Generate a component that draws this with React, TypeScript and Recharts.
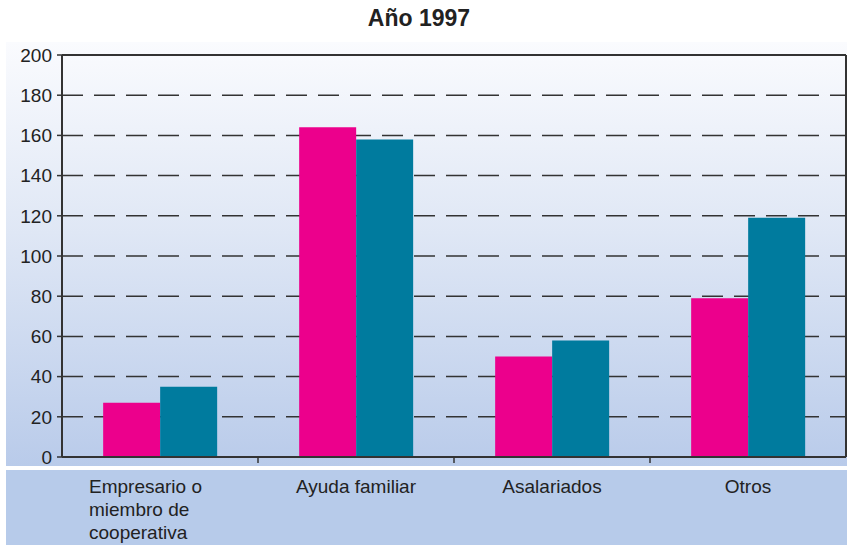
import React from "react";
import { BarChart, Bar, XAxis, YAxis, CartesianGrid, ReferenceLine } from "recharts";

const categories = ["Empresario o\nmiembro de\ncooperativa", "Ayuda familiar", "Asalariados", "Otros"];
const serieA = [27, 164, 50, 79];
const serieB = [35, 158, 58, 119];
const yTicks = [0, 20, 40, 60, 80, 100, 120, 140, 160, 180, 200];

const data = categories.map((c, i) => ({ name: c, a: serieA[i], b: serieB[i] }));

const FONT = "'Liberation Sans', Arial, sans-serif";
const W = 847;
const H = 545;
const PLOT_LEFT = 62;
const PLOT_RIGHT = 846;
const BAND = (PLOT_RIGHT - PLOT_LEFT) / categories.length;

function CategoryTick(props: any) {
  const { x, y, payload, index } = props;
  const lines = String(payload.value).split("\n");
  const multi = lines.length > 1;
  const tx = multi ? x - 71 : x;
  return (
    <g>
      {index < categories.length - 1 && (
        <line x1={x + BAND / 2} x2={x + BAND / 2} y1={y} y2={y + 6} stroke="#333" strokeWidth={1.5} />
      )}
      <text x={tx} y={y + 36} textAnchor={multi ? "start" : "middle"} fill="#222" fontSize={19} fontFamily={FONT}>
        {lines.map((l, i) => (
          <tspan key={i} x={tx} dy={i === 0 ? 0 : 23}>
            {l}
          </tspan>
        ))}
      </text>
    </g>
  );
}

export default function App() {
  return (
    <div style={{ position: "absolute", left: 0, top: 0, width: W, height: H, background: "#fff", fontFamily: FONT }}>
      <div
        style={{
          position: "absolute",
          left: 6,
          top: 42,
          width: W - 6,
          height: 424,
          background: "linear-gradient(#fafbfe 0%, #dfe7f5 45%, #b9cbea 100%)",
        }}
      />
      <div style={{ position: "absolute", left: 6, top: 470, width: W - 6, height: H - 470, background: "#b7cbea" }} />
      <div
        style={{
          position: "absolute",
          left: 0,
          top: 5,
          width: 838,
          textAlign: "center",
          fontSize: 23,
          lineHeight: "26px",
          fontWeight: "bold",
          color: "#222",
        }}
      >
        Año 1997
      </div>
      <div style={{ position: "absolute", left: 0, top: 0 }}>
        <BarChart
          width={W}
          height={H}
          data={data}
          margin={{ top: 55, right: 0, bottom: 0, left: 0 }}
          barCategoryGap="21%"
          barGap={0}
        >
          <CartesianGrid vertical={false} stroke="#333" strokeWidth={1.5} strokeDasharray="21 11" />
          <XAxis
            dataKey="name"
            height={88}
            tickLine={false}
            tickSize={0}
            tickMargin={0}
            axisLine={{ stroke: "#333", strokeWidth: 2 }}
            tick={<CategoryTick />}
            interval={0}
          />
          <YAxis
            width={62}
            domain={[0, 200]}
            ticks={yTicks}
            interval={0}
            tickSize={5}
            tickMargin={5}
            axisLine={{ stroke: "#333", strokeWidth: 2 }}
            tickLine={{ stroke: "#333", strokeWidth: 1.5 }}
            tick={{ fill: "#222", fontSize: 19, fontFamily: FONT }}
          />
          <YAxis
            yAxisId="right"
            orientation="right"
            width={1}
            domain={[0, 200]}
            tick={false}
            tickLine={false}
            axisLine={{ stroke: "#333", strokeWidth: 2 }}
          />
          <ReferenceLine y={200} stroke="#333" strokeWidth={2} />
          <Bar dataKey="a" fill="#ec008c" isAnimationActive={false} />
          <Bar dataKey="b" fill="#007b9e" isAnimationActive={false} />
        </BarChart>
      </div>
    </div>
  );
}
